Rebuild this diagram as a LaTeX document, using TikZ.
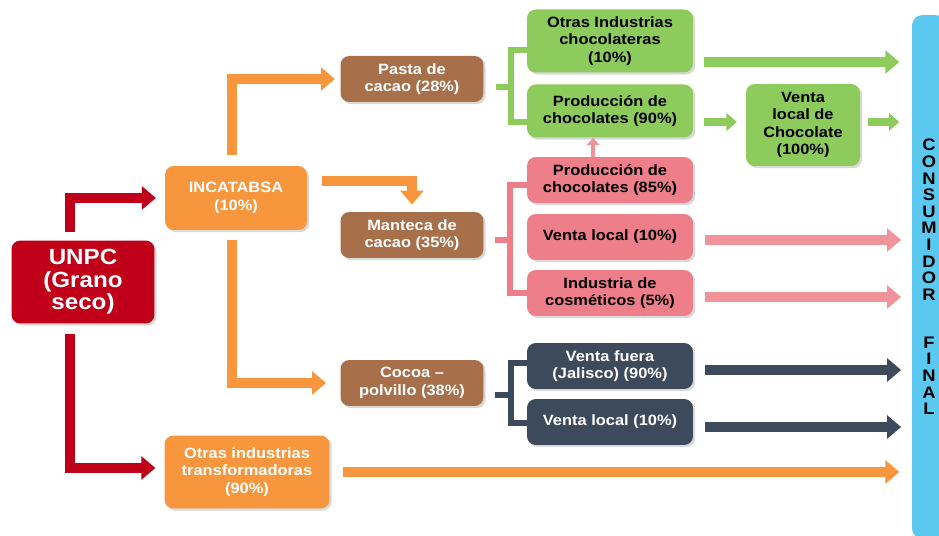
\documentclass[tikz,border=0pt]{standalone}
\usepackage{fontspec}
\setmainfont{Liberation Sans}[FakeStretch=1.1]
\usepackage{tikz}
\usetikzlibrary{arrows.meta, positioning, calc, shadows}

\definecolor{unpcred}{HTML}{C00018}
\definecolor{naranja}{HTML}{F7963C}
\definecolor{cafe}{HTML}{A8704A}
\definecolor{verde}{HTML}{8DCB5C}
\definecolor{rosa}{HTML}{EE7F8A}
\definecolor{rosaflecha}{HTML}{F1939B}
\definecolor{oscuro}{HTML}{3D4A5C}
\definecolor{celeste}{HTML}{5BC8F0}

\begin{document}
\begin{tikzpicture}[x=0.02cm, y=-0.02cm,
    box/.style={rounded corners=5pt, align=center, inner sep=1pt,
      font=\bfseries\fontsize{8.5}{9.9}\selectfont,
      drop shadow={shadow xshift=1.2pt, shadow yshift=-1.2pt, opacity=0.3}},
    redbox/.style={box, fill=unpcred, text=white},
    orangebox/.style={box, fill=naranja, text=white},
    brownbox/.style={box, fill=cafe, text=white, minimum width=2.86cm, minimum height=0.92cm},
    greenbox/.style={box, fill=verde, text=black},
    pinkbox/.style={box, fill=rosa, text=black, minimum width=3.32cm, minimum height=0.92cm},
    darkbox/.style={box, fill=oscuro, text=white, minimum width=3.32cm, minimum height=0.92cm},
    fat/.style={line width=5.3pt, -{Triangle[length=8pt, width=13pt]}},
    thin/.style={line width=3.2pt},
  ]
  \useasboundingbox (0,0) rectangle (939,536);

  \node[redbox, minimum width=2.86cm, minimum height=1.66cm,
    font=\bfseries\fontsize{12.5}{12.8}\selectfont] (unpc) at (83,282) {UNPC\\(Grano\\seco)};
  \node[orangebox, minimum width=2.84cm, minimum height=1.28cm] (inca) at (236,198) {INCATABSA\\(10\%)};
  \node[orangebox, minimum width=3.3cm, minimum height=1.46cm] (otras) at (247,472) {Otras industrias\\transformadoras\\(90\%)};

  \node[brownbox] (pasta) at (412,79) {Pasta de\\cacao (28\%)};
  \node[brownbox] (mant) at (412,235) {Manteca de\\cacao (35\%)};
  \node[brownbox] (cocoa) at (412,383) {Cocoa --\\polvillo (38\%)};

  \node[greenbox, minimum width=3.32cm, minimum height=1.26cm] (och) at (610,41) {Otras Industrias\\chocolateras\\(10\%)};
  \node[greenbox, minimum width=3.32cm, minimum height=1.06cm] (pch) at (610,111) {Producción de\\chocolates (90\%)};
  \node[greenbox, minimum width=2.28cm, minimum height=1.64cm] (vlc) at (803,125) {Venta\\local de\\Chocolate\\(100\%)};

  \node[pinkbox] (p85) at (610,180) {Producción de\\chocolates (85\%)};
  \node[pinkbox] (pvl) at (610,237) {Venta local (10\%)};
  \node[pinkbox] (cosm) at (610,293) {Industria de\\cosméticos (5\%)};

  \node[darkbox] (vfj) at (610,366) {Venta fuera\\(Jalisco) (90\%)};
  \node[darkbox] (dvl) at (610,422) {Venta local (10\%)};

  \node[fill=celeste, rounded corners=6pt, minimum width=0.68cm, minimum height=10.48cm,
    inner sep=0pt, align=center, font=\bfseries\fontsize{9.5}{9.47}\selectfont] (cons) at (929,277)
    {C\\O\\N\\S\\U\\M\\I\\D\\O\\R\\[17.7pt]F\\I\\N\\A\\L};

  \draw[fat, unpcred, shorten >=5pt] ($(unpc.north)+(-13,-8)$) |- (inca.west);
  \draw[fat, unpcred, shorten >=5pt] ($(unpc.south)+(-13,10)$) |- ($(otras.west)+(0,-4)$);

  \draw[fat, naranja, shorten >=3pt] ($(inca.north)+(-4,-11)$) |- (pasta.west);
  \draw[fat, naranja, shorten >=4pt] ($(inca.east)+(15,-17)$) -| (mant.north);
  \draw[fat, naranja, shorten >=8pt] ($(inca.south)+(-4,10)$) |- (cocoa.west);
  \draw[fat, naranja, shorten >=7pt] ($(otras.east)+(13,0)$) -- (otras.east -| cons.west);

  \draw[thin, verde] ($(pasta.east)+(12,8)$) -- ++(15,0) |- ($(och.west)+(0,9)$);
  \draw[thin, verde] ($(pasta.east)+(27,8)$) |- ($(pch.west)+(0,11)$);
  \draw[thin, rosa] ($(mant.east)+(11,5)$) -- ++(15,0) |- ($(p85.west)+(0,5)$);
  \draw[thin, rosa] ($(mant.east)+(26,5)$) |- (cosm.west);
  \draw[thin, oscuro] ($(cocoa.east)+(11,12)$) -- ++(16,0) |- ($(vfj.west)+(0,-3)$);
  \draw[thin, oscuro] ($(cocoa.east)+(27,12)$) |- ($(dvl.west)+(0,1)$);

  \draw[line width=2.5pt, rosaflecha, -{Triangle[length=4pt, width=7pt]}] ($(p85.north)+(-17,0)$) -- ($(pch.south)+(-17,0)$);

  \coordinate (och-out) at ($(och.east)+(11,21)$);
  \coordinate (pch-out) at ($(pch.east)+(11,11)$);
  \coordinate (vlc-out) at ($(vlc.east)+(8,-3)$);
  \coordinate (pvl-out) at ($(pvl.east)+(12,3)$);
  \coordinate (cosm-out) at ($(cosm.east)+(12,4)$);
  \coordinate (vfj-out) at ($(vfj.east)+(12,4)$);
  \coordinate (dvl-out) at ($(dvl.east)+(12,5)$);

  \draw[fat, verde, shorten >=7pt] (och-out) -- (och-out -| cons.west);
  \draw[line width=4pt, verde, -{Triangle[length=6pt, width=10pt]}, shorten >=5pt] (pch-out) -- (pch-out -| vlc.west);
  \draw[line width=4pt, verde, -{Triangle[length=6pt, width=10pt]}, shorten >=7pt] (vlc-out) -- (vlc-out -| cons.west);

  \draw[fat, rosaflecha, shorten >=6pt] (pvl-out) -- (pvl-out -| cons.west);
  \draw[fat, rosaflecha, shorten >=6pt] (cosm-out) -- (cosm-out -| cons.west);
  \draw[fat, oscuro, shorten >=6pt] (vfj-out) -- (vfj-out -| cons.west);
  \draw[fat, oscuro, shorten >=6pt] (dvl-out) -- (dvl-out -| cons.west);
\end{tikzpicture}
\end{document}
